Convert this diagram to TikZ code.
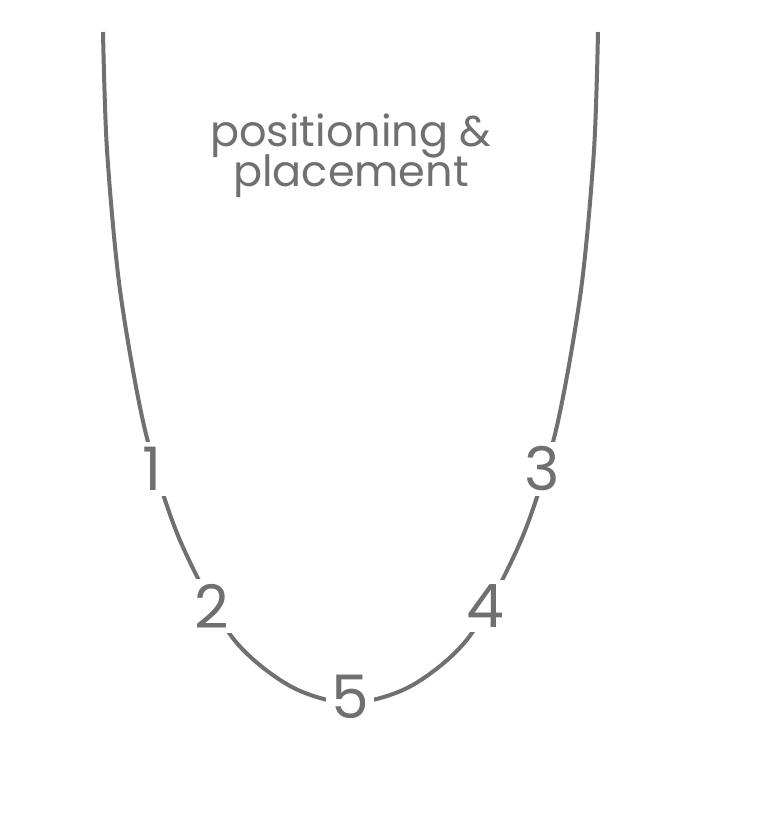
\documentclass[tikz,border=0pt]{standalone}
\usepackage{fontspec}
\setmainfont{Poppins}
\definecolor{ink}{HTML}{707070}
\begin{document}
\begin{tikzpicture}[x=1pt,y=-1pt,
  curve/.style={draw=ink, line width=4pt},
  num/.style={fill=white, text=ink, font=\fontsize{60}{60}\selectfont, inner sep=5pt},
  title/.style={text=ink, font=\fontsize{43}{43}\selectfont, anchor=base, inner sep=0pt}]
\useasboundingbox (0,0) rectangle (764,822);
\draw[curve] plot[smooth] coordinates {(103,32) (107,150) (120,290) (145,430) (179,538) (232,637) (290,686) (350,703) (411,686) (469,637) (522,538) (556,430) (581,290) (594,150) (598,32)};
\node[num] (n1) at (152,469) {1};
\node[num] (n2) at (212,606) {2};
\node[num] (n3) at (542,469) {3};
\node[num] (n4) at (485,606) {4};
\node[num] (n5) at (350,697) {5};
\node[title] (t1) at (351,146) {positioning \&};
\node[title] (t2) at (351,186) {placement};
\end{tikzpicture}
\end{document}
